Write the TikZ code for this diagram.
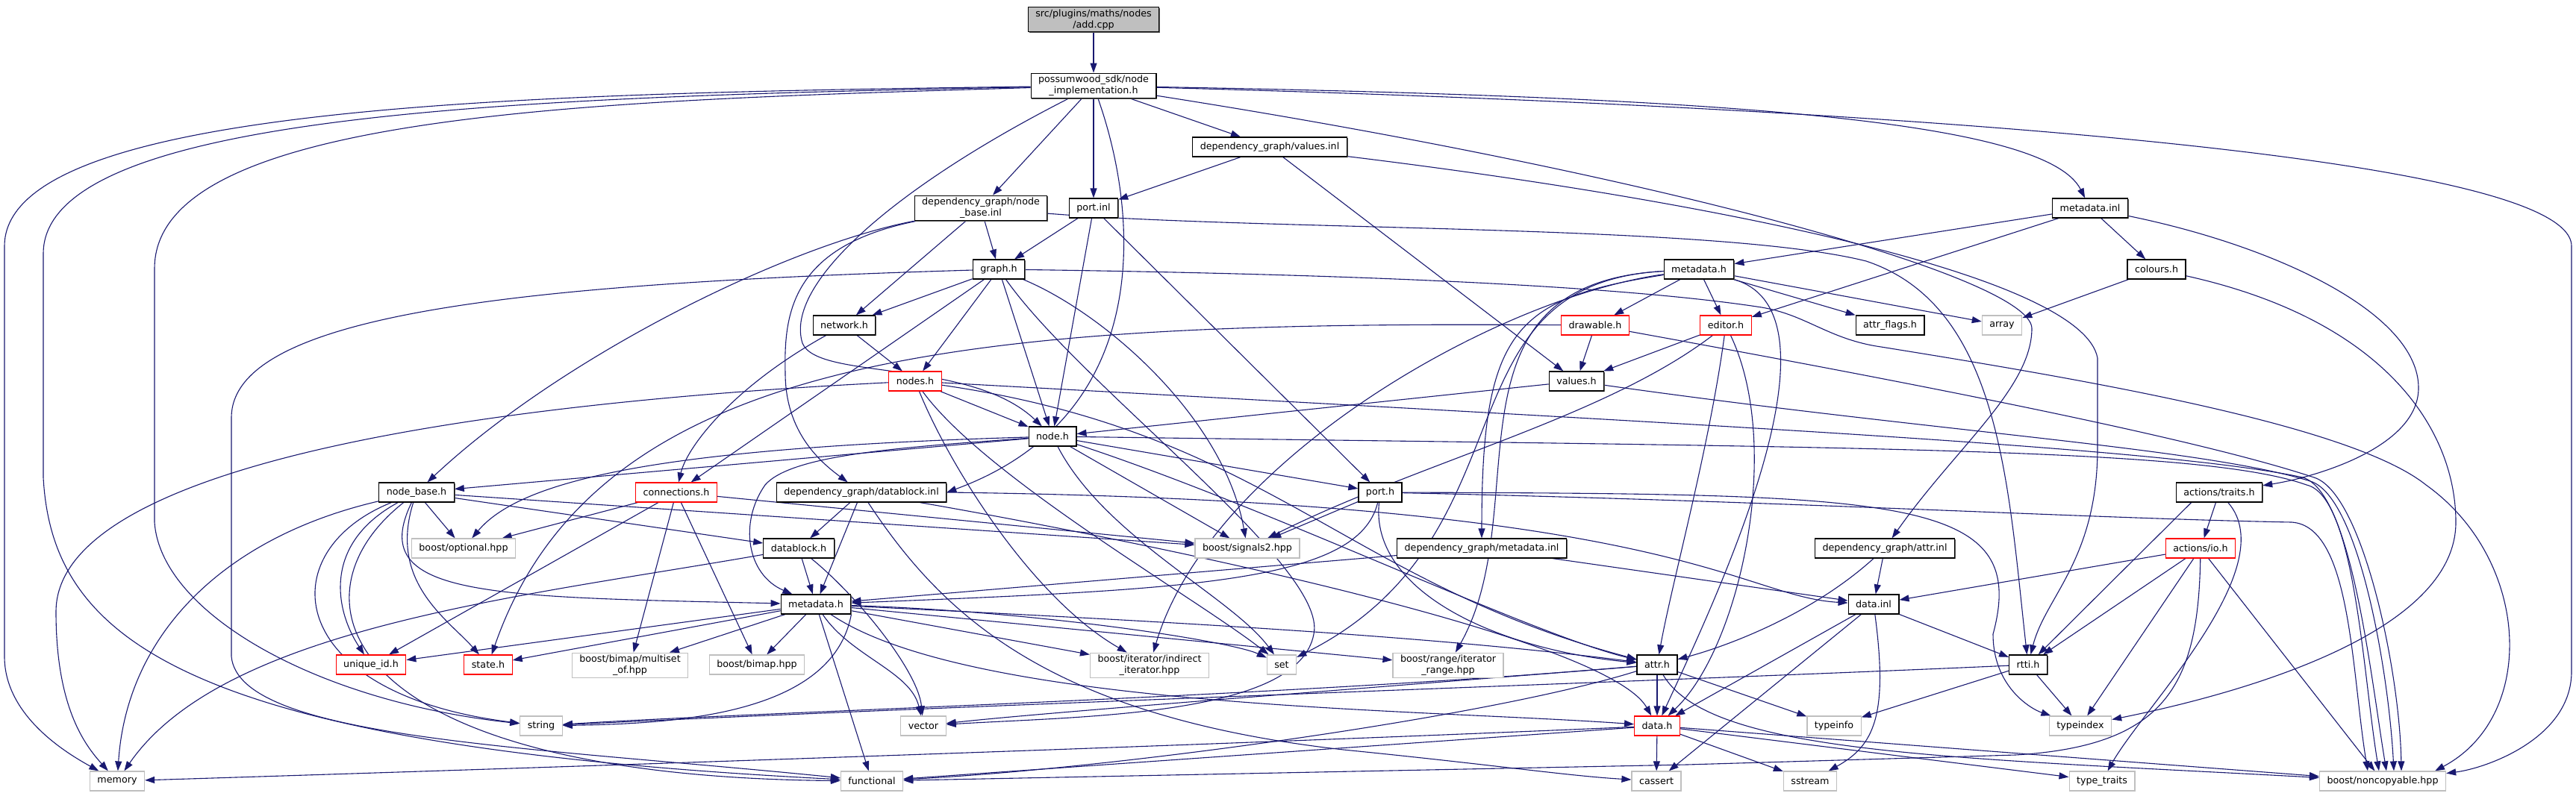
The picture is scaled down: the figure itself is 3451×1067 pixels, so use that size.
\documentclass[tikz,border=0pt]{standalone}
\usepackage{fontspec}
\setmainfont{DejaVu Sans}
\usetikzlibrary{arrows.meta,backgrounds,shadows}
\definecolor{depblue}{HTML}{191970}
\definecolor{sysgray}{HTML}{BFBFBF}
\tikzset{
  filebase/.style={draw=black, fill=white, line width=1.2pt, inner xsep=10pt, inner ysep=3pt,
    minimum height=26pt, align=center, font=\fontsize{12.7}{15}\selectfont},
  file/.style={filebase, general shadow={fill=black!65, shadow xshift=1.3pt, shadow yshift=-1.3pt}},
  sysfile/.style={filebase, draw=sysgray},
  redfile/.style={filebase, draw=red},
  dep/.style={draw=depblue, line width=1.1pt, -{Triangle[length=13pt, width=9pt]}},
}
\begin{document}
\begin{tikzpicture}[x=1pt, y=-1pt]
    \useasboundingbox (0,0) rectangle (3451,1067);

    % Dateien
    \node[file, fill=sysgray] (add) at (1465,26) {src/plugins/maths/nodes\\/add.cpp};
    \node[file] (impl) at (1465,115) {possumwood\_sdk/node\\\_implementation.h};
    \node[file] (valinl) at (1701,197) {dependency\_graph/values.inl};
    \node[file] (nbinl) at (1314,279) {dependency\_graph/node\\\_base.inl};
    \node[file] (portinl) at (1465,279) {port.inl};
    \node[file] (mdinl) at (2800,279) {metadata.inl};
    \node[file] (graph) at (1338,361) {graph.h};
    \node[file] (mdsdk) at (2276,361) {metadata.h};
    \node[file] (colours) at (2889,361) {colours.h};
    \node[file] (network) at (1131,436) {network.h};
    \node[redfile] (drawable) at (2137,436) {drawable.h};
    \node[redfile] (editor) at (2312,436) {editor.h};
    \node[file] (attrflags) at (2532,436) {attr\_flags.h};
    \node[sysfile] (array) at (2682,436) {array};
    \node[redfile] (nodes) at (1226,511) {nodes.h};
    \node[file] (values) at (2112,511) {values.h};
    \node[file] (node) at (1410,585) {node.h};
    \node[file] (nodebase) at (558,660) {node\_base.h};
    \node[redfile] (connections) at (906,660) {connections.h};
    \node[file] (dbinl) at (1154,660) {dependency\_graph/datablock.inl};
    \node[file] (port) at (1849,660) {port.h};
    \node[file] (traits) at (2973,660) {actions/traits.h};
    \node[sysfile] (optional) at (621,735) {boost/optional.hpp};
    \node[sysfile] (signals) at (1671,735) {boost/signals2.hpp};
    \node[file] (datablock) at (1070,735) {datablock.h};
    \node[file] (mdinl2) at (1985,735) {dependency\_graph/metadata.inl};
    \node[file] (attrinl) at (2525,735) {dependency\_graph/attr.inl};
    \node[redfile] (io) at (2948,735) {actions/io.h};
    \node[file] (metadata) at (1093,810) {metadata.h};
    \node[file] (datainl) at (2510,810) {data.inl};
    \node[redfile] (uid) at (497,891) {unique\_id.h};
    \node[redfile] (state) at (654,891) {state.h};
    \node[sysfile] (multiset) at (844,892) {boost/bimap/multiset\\\_of.hpp};
    \node[sysfile] (bimap) at (1014,891) {boost/bimap.hpp};
    \node[sysfile] (indirect) at (1540,892) {boost/iterator/indirect\\\_iterator.hpp};
    \node[sysfile] (set) at (1717,891) {set};
    \node[sysfile] (range) at (1940,892) {boost/range/iterator\\\_range.hpp};
    \node[file] (attr) at (2220,891) {attr.h};
    \node[file] (rtti) at (2717,891) {rtti.h};
    \node[sysfile] (string) at (725,973) {string};
    \node[sysfile] (vector) at (1237,973) {vector};
    \node[redfile] (data) at (2220,973) {data.h};
    \node[sysfile] (typeinfo) at (2457,973) {typeinfo};
    \node[sysfile] (typeindex) at (2787,973) {typeindex};
    \node[sysfile] (memory) at (157,1047) {memory};
    \node[sysfile] (functional) at (1168,1047) {functional};
    \node[sysfile] (cassert) at (2219,1047) {cassert};
    \node[sysfile] (sstream) at (2425,1047) {sstream};
    \node[sysfile] (typetraits) at (2816,1047) {type\_traits};
    \node[sysfile] (noncopy) at (3192,1047) {boost/noncopyable.hpp};

    \begin{pgfonlayer}{background}
    % node_implementation.h
    \draw[dep] (add) -- (impl);
    \draw[dep] (impl) .. controls (700,125) and (6,140) .. (6,330) -- (6,880) .. controls (6,960) and (90,1010) .. (memory);
    \draw[dep] (impl) .. controls (700,130) and (58,150) .. (58,340) -- (58,640) .. controls (70,860) and (250,1000) .. (functional);
    \draw[dep] (impl) .. controls (800,135) and (207,150) .. (207,360) -- (207,700) .. controls (215,820) and (420,940) .. (string);
    \draw[dep] (impl) .. controls (1200,250) and (1050,380) .. (1075,460) .. controls (1095,510) and (1300,480) .. (node);
    \draw[dep] (impl) -- (nbinl);
    \draw[dep] (impl) -- (portinl);
    \draw[dep] (impl) -- (valinl);
    \draw[dep] (impl) .. controls (1530,300) and (1540,560) .. (dbinl.east);
    \draw[dep] (impl) .. controls (2300,130) and (2740,160) .. (mdinl);
    \draw[dep] (impl) .. controls (2200,230) and (2720,370) .. (2722,440) .. controls (2722,520) and (2620,600) .. (attrinl);
    \draw[dep] (impl) .. controls (2400,140) and (3445,200) .. (3445,330) -- (3445,900) .. controls (3445,990) and (3330,1030) .. (noncopy);

    % .inl
    \draw[dep] (valinl) -- (portinl);
    \draw[dep] (valinl) -- (values);
    \draw[dep] (valinl) .. controls (2300,270) and (2790,370) .. (2810,480) -- (2810,600) .. controls (2810,750) and (2740,800) .. (rtti);
    \draw[dep] (nbinl) -- (graph);
    \draw[dep] (nbinl) -- (network);
    \draw[dep] (nbinl) .. controls (1050,330) and (750,480) .. (nodebase);
    \draw[dep] (nbinl) .. controls (1060,330) and (1050,420) .. (1052,500) .. controls (1052,580) and (1100,620) .. (dbinl);
    \draw[dep] (nbinl) .. controls (1700,310) and (2300,300) .. (2500,350) .. controls (2680,410) and (2690,650) .. (rtti);
    \draw[dep] (portinl) -- (graph);
    \draw[dep] (portinl) -- (node);
    \draw[dep] (portinl) -- (port);
    \draw[dep] (mdinl) -- (mdsdk);
    \draw[dep] (mdinl) -- (editor);
    \draw[dep] (mdinl) -- (colours);
    \draw[dep] (mdinl) .. controls (3050,330) and (3240,420) .. (3240,520) .. controls (3240,600) and (3100,640) .. (traits);

    % graph.h
    \draw[dep] (graph) .. controls (700,380) and (310,420) .. (310,560) -- (310,880) .. controls (320,990) and (700,1000) .. (functional);
    \draw[dep] (graph) -- (network);
    \draw[dep] (graph) -- (connections);
    \draw[dep] (graph) -- (nodes);
    \draw[dep] (graph) -- (node);
    \draw[dep] (graph) .. controls (1480,420) and (1640,560) .. (signals);
    \draw[dep] (graph) .. controls (1450,520) and (1780,760) .. (1760,850) .. controls (1740,960) and (1450,960) .. (vector);
    \draw[dep] (graph) .. controls (2000,370) and (2250,395) .. (2360,412) .. controls (2420,422) and (2450,455) .. (2520,465)
        .. controls (2800,510) and (3150,570) .. (3250,650) .. controls (3390,750) and (3400,960) .. ([xshift=70pt]noncopy.north);

    % metadata.h (sdk)
    \draw[dep] (mdsdk) -- (drawable);
    \draw[dep] (mdsdk) -- (editor);
    \draw[dep] (mdsdk) -- (attrflags);
    \draw[dep] (mdsdk) -- (array);
    \draw[dep] (mdsdk) .. controls (2030,400) and (1985,440) .. (mdinl2);
    \draw[dep] (mdsdk) .. controls (2000,400) and (1620,620) .. (indirect);
    \draw[dep] (mdsdk) .. controls (1920,380) and (2060,680) .. (range);
    \draw[dep] (mdsdk) .. controls (1920,380) and (2060,720) .. (set);
    \draw[dep] (mdsdk) .. controls (2480,420) and (2300,800) .. (data);
    \draw[dep] (colours) -- (array);
    \draw[dep] (colours) .. controls (3200,430) and (3290,580) .. (3290,700) .. controls (3290,850) and (3000,930) .. (typeindex);

    % network, drawable, editor
    \draw[dep] (network) -- (nodes);
    \draw[dep] (network) .. controls (980,520) and (920,600) .. (connections);
    \draw[dep] (drawable) -- (values);
    \draw[dep] (drawable) .. controls (1300,430) and (800,470) .. (state);
    \draw[dep] (drawable) .. controls (2600,520) and (2950,590) .. (3100,640) .. controls (3165,660) and (3215,900) .. ([xshift=25pt]noncopy.north);
    \draw[dep] (editor) -- (values);
    \draw[dep] (editor) .. controls (2150,560) and (1900,620) .. (signals);
    \draw[dep] (editor) .. controls (2290,600) and (2240,780) .. (attr);
    \draw[dep] (editor) .. controls (2390,600) and (2330,870) .. (data);

    % nodes.h, values.h, node.h
    \draw[dep] (nodes) -- (node);
    \draw[dep] (nodes) .. controls (550,545) and (75,640) .. (75,820) .. controls (75,950) and (115,1000) .. (memory);
    \draw[dep] (nodes) .. controls (1270,620) and (1380,800) .. (indirect);
    \draw[dep] (nodes) .. controls (1320,640) and (1600,800) .. (set);
    \draw[dep] (nodes) .. controls (1700,580) and (1800,780) .. (attr);
    \draw[dep] (nodes) .. controls (2300,570) and (2900,600) .. (3085,640) .. controls (3150,660) and (3175,900) .. ([xshift=5pt]noncopy.north);
    \draw[dep] (values) -- (node);
    \draw[dep] (values) .. controls (2600,580) and (2950,600) .. (3095,645) .. controls (3160,665) and (3200,900) .. ([xshift=15pt]noncopy.north);
    \draw[dep] (node) -- (nodebase);
    \draw[dep] (node) .. controls (1200,600) and (1060,610) .. (1025,650) .. controls (990,700) and (1000,770) .. (metadata);
    \draw[dep] (node) .. controls (900,600) and (700,640) .. (optional);
    \draw[dep] (node) -- (signals);
    \draw[dep] (node) -- (port);
    \draw[dep] (node) .. controls (1480,720) and (1650,800) .. (set);
    \draw[dep] (node) .. controls (1700,680) and (2050,850) .. (attr);
    \draw[dep] (node) .. controls (2500,600) and (2950,600) .. (3090,650) .. controls (3155,665) and (3165,900) .. ([xshift=-5pt]noncopy.north);

    % node_base.h, connections.h
    \draw[dep] (nodebase) -- (optional);
    \draw[dep] (nodebase) -- (datablock);
    \draw[dep] (nodebase) -- (signals);
    \draw[dep] (nodebase) .. controls (490,800) and (650,800) .. (metadata);
    \draw[dep] (nodebase) .. controls (430,730) and (450,820) .. (uid);
    \draw[dep] (nodebase) .. controls (520,780) and (600,830) .. (state);
    \draw[dep] (nodebase) .. controls (360,740) and (380,930) .. (string);
    \draw[dep] (nodebase) .. controls (300,720) and (170,850) .. (memory);
    \draw[dep] (nodebase) .. controls (380,800) and (450,1040) .. (functional);
    \draw[dep] (connections) -- (optional);
    \draw[dep] (connections) -- (uid);
    \draw[dep] (connections) -- (multiset);
    \draw[dep] (connections) -- (bimap);
    \draw[dep] (connections) -- (signals);

    % datablock.inl, port.h, traits
    \draw[dep] (dbinl) -- (datablock);
    \draw[dep] (dbinl) -- (metadata);
    \draw[dep] (dbinl.east) .. controls (2250,672) and (2330,800) .. (datainl);
    \draw[dep] (dbinl) .. controls (1260,820) and (1400,960) .. (1800,1005) .. controls (2000,1025) and (2100,1040) .. (cassert);
    \draw[dep] (dbinl) .. controls (1500,720) and (2150,850) .. (data);
    \draw[dep] (port) -- (signals);
    \draw[dep] (port) .. controls (1820,780) and (1600,790) .. (metadata);
    \draw[dep] (port) .. controls (1835,790) and (2000,870) .. (attr);
    \draw[dep] (port) .. controls (2550,662) and (2720,665) .. (2670,850) .. controls (2670,920) and (2720,950) .. (typeindex);
    \draw[dep] (port) .. controls (2400,672) and (2800,695) .. (3070,700) .. controls (3150,705) and (3150,900) .. ([xshift=-20pt]noncopy.north);
    \draw[dep] (traits) -- (io);
    \draw[dep] (traits.200) -- (rtti);
    \draw[dep] (traits) .. controls (3060,760) and (2870,950) .. (typetraits);

    % datablock.h, metadata.inl, attr.inl, io.h
    \draw[dep] (datablock) -- (metadata);
    \draw[dep] (datablock) .. controls (700,800) and (300,840) .. (memory);
    \draw[dep] (datablock) .. controls (1150,800) and (1230,900) .. (vector);
    \draw[dep] (mdinl2) -- (metadata);
    \draw[dep] (mdinl2) -- (datainl);
    \draw[dep] (attrinl) -- (datainl);
    \draw[dep] (attrinl) .. controls (2420,830) and (2300,870) .. (attr);
    \draw[dep] (io) -- (datainl);
    \draw[dep] (io) -- (rtti);
    \draw[dep] (io) -- (typeindex);
    \draw[dep] (io) -- (noncopy);
    \draw[dep] (io) .. controls (2945,920) and (2900,1000) .. (2700,1012) -- (2260,1025) -- (functional);

    % dependency_graph/metadata.h
    \draw[dep] (metadata) -- (uid);
    \draw[dep] (metadata) -- (state);
    \draw[dep] (metadata) -- (multiset);
    \draw[dep] (metadata) -- (bimap);
    \draw[dep] (metadata) -- (indirect);
    \draw[dep] (metadata) .. controls (1400,820) and (1650,860) .. (set);
    \draw[dep] (metadata) -- (range);
    \draw[dep] (metadata) .. controls (1500,830) and (1900,850) .. (attr);
    \draw[dep] (metadata) -- (functional);
    \draw[dep] (metadata.south east) .. controls (1115,960) and (900,970) .. (string);
    \draw[dep] (metadata) .. controls (1140,880) and (1220,900) .. (vector);
    \draw[dep] (metadata) .. controls (1300,950) and (1900,950) .. (data);

    % data.inl, attr.h, rtti.h, data.h
    \draw[dep] (datainl) -- (data);
    \draw[dep] (datainl) -- (cassert);
    \draw[dep] (datainl) .. controls (2530,960) and (2510,1000) .. (sstream);
    \draw[dep] (datainl) -- (rtti);
    \draw[dep] (attr) -- (data);
    \draw[dep] (attr) -- (typeinfo);
    \draw[dep] (attr) .. controls (1700,935) and (1000,955) .. (string);
    \draw[dep] (attr) .. controls (1800,925) and (1400,955) .. (vector);
    \draw[dep] (attr) .. controls (2000,960) and (1500,1030) .. (functional);
    \draw[dep] (attr) .. controls (2290,1010) and (2600,1015) .. (noncopy);
    \draw[dep] (rtti) -- (typeinfo);
    \draw[dep] (rtti) -- (typeindex);
    \draw[dep] (rtti) .. controls (2300,910) and (1300,945) .. (string);
    \draw[dep] (data) -- (cassert);
    \draw[dep] (data) -- (sstream);
    \draw[dep] (data) -- (typetraits);
    \draw[dep] (data) -- (noncopy);
    \draw[dep] (data) -- (functional);
    \draw[dep] (data) .. controls (1600,1000) and (700,1030) .. (memory);
    \end{pgfonlayer}
\end{tikzpicture}
\end{document}
